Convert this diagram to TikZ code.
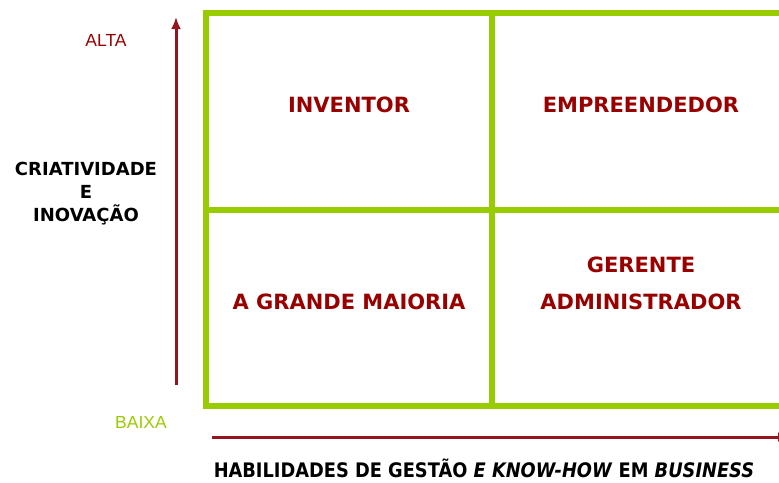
\documentclass[tikz,border=0pt]{standalone}
\usepackage{fontspec}
\setmainfont{DejaVu Sans}
\newfontfamily\captionfont[FakeStretch=0.89]{DejaVu Sans}
\newfontfamily\axisfont{Liberation Sans}
\usepackage{tikz}
\usetikzlibrary{arrows.meta,positioning}
\definecolor{darkred}{RGB}{153,0,0}
\definecolor{arrowred}{RGB}{150,20,30}
\definecolor{leafgreen}{RGB}{153,204,0}

\begin{document}
\begin{tikzpicture}[x=1pt, y=-1pt,
    quadlabel/.style={text=darkred, font=\fontsize{21}{21}\selectfont\bfseries, inner sep=0pt},
    gridline/.style={draw=leafgreen, line width=5.5pt},
    axisarrow/.style={draw=arrowred, line width=3pt, -{Latex[length=12pt,width=10pt]}},
    axislabel/.style={font=\axisfont\fontsize{17.5}{17.5}\selectfont, inner sep=0pt},
    axistitle/.style={font=\fontsize{18}{23}\selectfont\bfseries, align=center, inner sep=0pt}]

  \useasboundingbox (0,0) rectangle (779,482);

  % Define grid corners
  \coordinate (tl) at (206,13);
  \coordinate (bl) at (206,406);
  \coordinate (tr) at (785,13);
  \coordinate (br) at (785,406);
  \coordinate (mt) at (492,13);
  \coordinate (mb) at (492,406);
  \coordinate (ml) at (206,210);
  \coordinate (mr) at (785,210);

  % Define axis ends
  \coordinate (vstart) at (176,385);
  \coordinate (vend) at (176,17);
  \coordinate (hstart) at (212,437);
  \coordinate (hend) at (790,437);

  % Grid
  \draw[gridline] (tr) -- (tl) -- (bl) -- (br);
  \draw[gridline] (mt) -- (mb);
  \draw[gridline] (ml) -- (mr);

  % Axes
  \draw[axisarrow] (vstart) -- (vend);
  \draw[axisarrow] (hstart) -- (hend);

  % Quadrant labels
  \node[quadlabel] (inventor) at (349,105) {INVENTOR};
  \node[quadlabel] (empreendedor) at (641,105) {EMPREENDEDOR};
  \node[quadlabel] (maioria) at (349,302) {A GRANDE MAIORIA};
  \node[quadlabel] (gerente) at (641,265) {GERENTE};
  \node[quadlabel] (administrador) at (641,302) {ADMINISTRADOR};

  % Axis texts
  \node[axislabel, text=darkred] (alta) at (106,40) {ALTA};
  \node[axislabel, text=leafgreen] (baixa) at (141,422) {BAIXA};
  \node[axistitle] (criatividade) at (86,194) {CRIATIVIDADE\\E\\INOVAÇÃO};
  \node[font=\captionfont\fontsize{20}{20}\selectfont\bfseries, inner sep=0pt, anchor=base] (habilidades) at (484,477)
    {HABILIDADES DE GESTÃO \textit{E KNOW-HOW} EM \textit{BUSINESS}};

\end{tikzpicture}
\end{document}
